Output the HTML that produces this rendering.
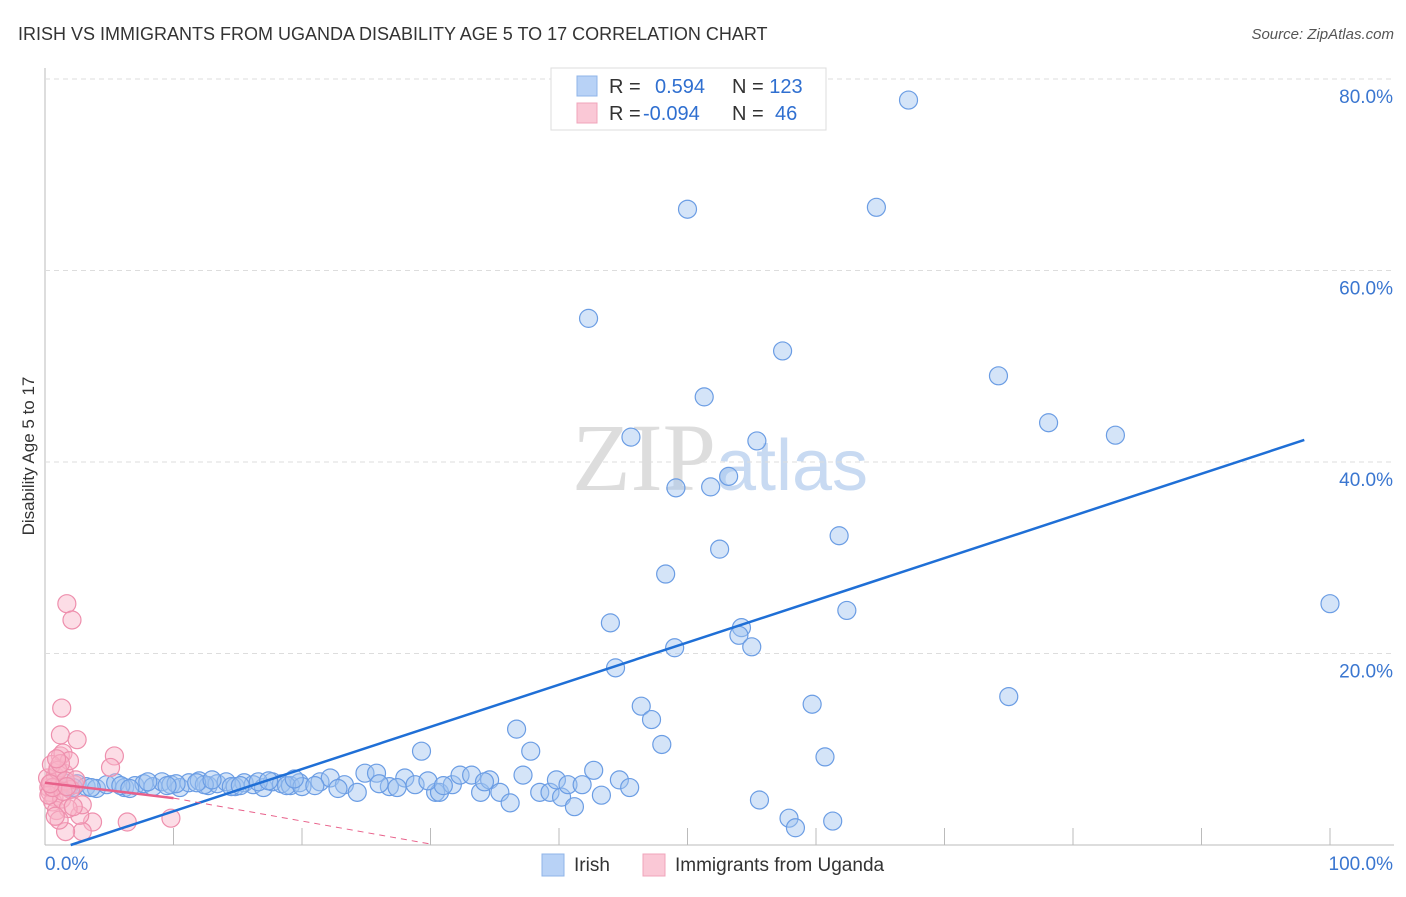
<!DOCTYPE html>
<html><head><meta charset="utf-8"><style>
body{margin:0;background:#fff;font-family:"Liberation Sans",sans-serif;}
</style></head><body>
<svg id="c" width="1406" height="892" xmlns="http://www.w3.org/2000/svg">
<text x="18" y="40" font-size="18" fill="#333">IRISH VS IMMIGRANTS FROM UGANDA DISABILITY AGE 5 TO 17 CORRELATION CHART</text>
<text x="1394" y="39" font-size="15" fill="#555" font-style="italic" text-anchor="end">Source: ZipAtlas.com</text>
<text x="34" y="456" font-size="17" fill="#333" text-anchor="middle" transform="rotate(-90 34 456)">Disability Age 5 to 17</text>
<text x="720" y="490" font-size="96" fill="#ddd" text-anchor="middle" font-family="Liberation Serif">ZIP<tspan fill="#c8daf2" font-family="Liberation Sans" font-size="72">atlas</tspan></text>
<g id="grid"></g><g id="pts"></g><g id="lines"></g>
<g>
<rect x="551" y="68" width="275" height="62" fill="#fff" stroke="#ddd"/>
<rect x="577" y="76" width="20" height="20" fill="#b8d2f6" stroke="#8fb4e8"/>
<rect x="577" y="103" width="20" height="20" fill="#fac8d6" stroke="#f0a4bb"/>
<text x="609" y="93" font-size="20" fill="#333">R = <tspan fill="#2f6fd0" x="655">0.594</tspan><tspan fill="#333" x="732">N = </tspan><tspan fill="#2f6fd0">123</tspan></text>
<text x="609" y="120" font-size="20" fill="#333">R = <tspan fill="#2f6fd0" x="643">-0.094</tspan><tspan fill="#333" x="732">N = </tspan><tspan fill="#2f6fd0" x="775">46</tspan></text>
</g>
<g>
<rect x="542" y="854" width="22" height="22" fill="#b8d2f6" stroke="#8fb4e8"/>
<text x="574" y="871" font-size="19" fill="#333">Irish</text>
<rect x="643" y="854" width="22" height="22" fill="#fac8d6" stroke="#f0a4bb"/>
<text x="675" y="871" font-size="19" fill="#333">Immigrants from Uganda</text>
</g>
</svg>
<script>
const yTicks=[20,40,60,80];
const yTickLabels=["20.0%","40.0%","60.0%","80.0%"];
const xTickLabels=["0.0%","100.0%"];
const irishX=[67.2,50.0,64.7,42.3,57.4,74.2,51.3,78.1,83.3,45.6,55.4,49.1,51.8,53.2,52.5,61.8,48.3,100,44.0,62.4,54.2,54.0,55.0,49.0,44.4,75.0,46.4,47.2,59.7,36.7,48.0,29.3,37.8,60.7,55.6,57.9,58.4,61.3,
1,1.8,2.5,3.2,4,4.8,5.5,6.2,7,7.7,8.4,9.1,9.8,10.5,11.2,12,12.7,13.4,14.1,14.8,15.5,16.2,17,17.7,18.4,19.1,19.8,1.5,3.6,5.9,8,10.2,12.4,14.5,16.6,18.8,
20,21.4,22.2,23.3,24.3,24.9,25.8,26.8,28,28.8,30.4,30.7,31.7,32.3,33.2,33.9,34.6,35.4,36.2,37.2,38.5,39.3,39.8,40.2,40.7,41.2,41.8,42.7,43.3,44.7,45.5,
2.2,6.6,9.5,11.8,13,15.2,17.4,19.4,21,22.8,26,27.4,29.8,31,34.2];
const irishY=[77.8,66.4,66.6,55.0,51.6,49.0,46.8,44.1,42.8,42.6,42.2,37.3,37.4,38.5,30.9,32.3,28.3,25.2,23.2,24.5,22.7,21.9,20.7,20.6,18.5,15.5,14.5,13.1,14.7,12.1,10.5,9.8,9.8,9.2,4.7,2.8,1.8,2.5,
6.2,6.0,6.4,6.1,5.9,6.3,6.5,6.0,6.2,6.4,6.1,6.6,6.3,6.0,6.5,6.7,6.2,6.4,6.6,6.1,6.5,6.3,6.0,6.6,6.4,6.2,6.5,6.5,6.0,6.2,6.6,6.4,6.3,6.1,6.6,6.2,
6.1,6.6,7.0,6.3,5.5,7.5,7.5,6.1,7.0,6.3,5.5,5.5,6.3,7.3,7.3,5.5,6.8,5.5,4.4,7.3,5.5,5.5,6.8,5.0,6.3,4.0,6.3,7.8,5.2,6.8,6.0,
6.0,5.9,6.2,6.5,6.8,6.2,6.7,6.9,6.2,5.9,6.4,6.0,6.7,6.2,6.6];
const ugX=[1.7,2.1,1.3,1.2,2.5,5.4,5.1,6.4,9.8,3.7,2.9,1.6,2.7,2.9,0.3,0.5,0.8,1.0,1.2,1.4,0.4,0.7,1.1,1.5,1.9,2.3,0.6,0.9,1.3,1.8,0.2,0.5,1.0,1.6,2.0,1.1,0.8,0.3,1.4,2.4,0.6,1.2,1.7,0.9,2.2,0.4];
const ugY=[25.2,23.5,14.3,11.5,11.0,9.3,8.1,2.4,2.8,2.4,1.4,1.4,3.1,4.2,6.0,6.5,7.2,8.0,9.3,9.6,5.5,5.0,6.2,7.5,8.8,6.3,4.5,3.6,4.8,3.8,7.0,8.4,7.8,6.7,5.8,2.6,3.0,5.2,5.6,6.8,6.0,8.5,6.1,9.0,4.0,6.4];
const ns="http://www.w3.org/2000/svg";
const X=v=>45+v*12.85, Y=v=>845-v*9.575;
function mk(t,a,p){const e=document.createElementNS(ns,t);for(const k in a)e.setAttribute(k,a[k]);document.getElementById(p).appendChild(e);return e;}
let g;
g=mk('line',{x1:45,y1:845,x2:1394,y2:845,stroke:'#bbb'},'grid');


g=mk('line',{x1:45,y1:68,x2:45,y2:845,stroke:'#bbb'},'grid');


yTicks.forEach((t,i)=>{
 g=mk('line',{x1:45,y1:Y(t),x2:1394,y2:Y(t),stroke:'#ddd','stroke-dasharray':'5,4'},'grid');
 
 
 g=mk('text',{x:1393,y:Y(t)+24,'font-size':19,fill:'#3a76d0','text-anchor':'end'},'grid');
 g.textContent=yTickLabels[i];
 
 
});
for(let i=1;i<=10;i++){
 g=mk('line',{x1:X(i*10),y1:828,x2:X(i*10),y2:845,stroke:'#bbb'},'grid');
 
 
}
g=mk('text',{x:45,y:870,'font-size':19,fill:'#3a76d0'},'grid');g.textContent=xTickLabels[0];


g=mk('text',{x:1393,y:870,'font-size':19,fill:'#3a76d0','text-anchor':'end'},'grid');g.textContent=xTickLabels[1];


irishX.forEach((x,i)=>{
 g=mk('circle',{cx:X(x),cy:Y(irishY[i]),r:9,fill:'rgba(160,196,240,0.45)',stroke:'#6b9de4','stroke-width':1.2},'pts');
 
 
});
ugX.forEach((x,i)=>{
 g=mk('circle',{cx:X(x),cy:Y(ugY[i]),r:9,fill:'rgba(248,180,200,0.45)',stroke:'#ee8fad','stroke-width':1.2},'pts');
 
 
});
g=mk('line',{x1:X(2),y1:Y(0),x2:X(98),y2:Y(42.3),stroke:'#1f6fd6','stroke-width':2.5},'lines');


g=mk('line',{x1:X(0),y1:Y(6.5),x2:X(10),y2:Y(4.9),stroke:'#e8608a','stroke-width':2.5},'lines');


g=mk('line',{x1:X(10),y1:Y(4.9),x2:X(30),y2:Y(0.1),stroke:'#e8608a','stroke-width':1,'stroke-dasharray':'6,5'},'lines');


</script>
</body></html>
